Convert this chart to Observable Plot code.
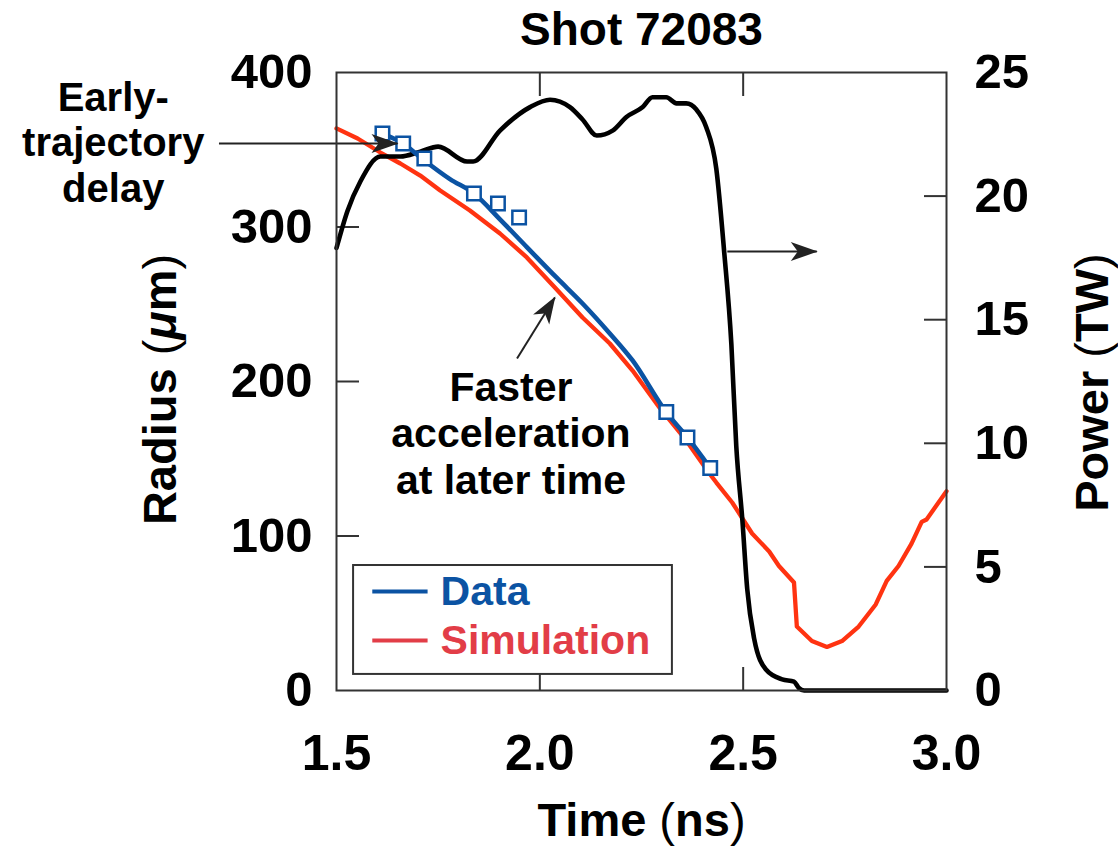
<!DOCTYPE html>
<html>
<head>
<meta charset="utf-8">
<script src="https://cdn.jsdelivr.net/npm/d3@7"></script>
<script src="https://cdn.jsdelivr.net/npm/@observablehq/plot@0.6"></script>
<style>
  html, body { margin: 0; padding: 0; background: #fff; }
  #chart svg { display: block; }
</style>
</head>
<body>
<div id="chart"></div>
<script>
// Laser power history (time in ns, power in TW)
const powerTime = [1.500, 1.527, 1.559, 1.608, 1.657, 1.706, 1.750, 1.821, 1.836, 1.902, 1.976, 2.025, 2.074, 2.105, 2.140, 2.179, 2.213, 2.253, 2.277, 2.311, 2.336, 2.360, 2.385, 2.409, 2.434, 2.453, 2.471, 2.483, 2.498, 2.510, 2.527, 2.556, 2.596, 2.625, 2.637, 2.650, 3.000];
const powerTW   = [17.9, 19.4, 20.6, 21.6, 21.6, 21.8, 22.0, 21.4, 21.4, 22.65, 23.6, 23.9, 23.6, 23.1, 22.45, 22.65, 23.2, 23.6, 24.0, 24.0, 23.75, 23.75, 23.5, 22.8, 21.1, 17.8, 14.0, 9.9, 6.9, 4.1, 2.1, 0.85, 0.45, 0.36, 0.1, 0, 0];

// Simulated shell radius (µm)
const simTime   = [1.500, 1.552, 1.608, 1.657, 1.706, 1.755, 1.828, 1.902, 1.968, 2.037, 2.105, 2.172, 2.228, 2.294, 2.360, 2.417, 2.434, 2.473, 2.522, 2.564, 2.588, 2.625, 2.632, 2.669, 2.706, 2.743, 2.784, 2.826, 2.853, 2.882, 2.914, 2.939, 2.951, 3.000];
const simRadius = [363.8, 357.3, 348.2, 341.1, 333.3, 323.6, 310.7, 295.8, 280.3, 260.8, 241.4, 224.6, 207.1, 183.2, 161.8, 140.5, 134.6, 121.7, 101.6, 90.0, 80.6, 69.9, 41.4, 32.0, 28.2, 32.0, 41.4, 55.7, 71.0, 80.6, 95.1, 109.1, 110.7, 129.0];

// Measured trajectory: fitted curve and individual measurements (µm)
const dataTime   = [1.613, 1.664, 1.713, 1.779, 1.838, 1.902, 1.968, 2.042, 2.105, 2.172, 2.228, 2.311, 2.363, 2.419];
const dataRadius = [360.5, 354.0, 343.7, 331.0, 321.7, 305.0, 287.0, 267.0, 250.5, 231.1, 213.6, 180.0, 163.8, 144.0];
const pointTime   = [1.613, 1.664, 1.716, 1.838, 1.897, 1.949, 2.311, 2.363, 2.419];
const pointRadius = [360.5, 354.0, 344.3, 321.7, 315.2, 306.1, 180.3, 163.8, 144.0];

// Axis ticks
const timeTicks   = [1.5, 2.0, 2.5, 3.0];
const radiusTicks = [0, 100, 200, 300, 400];
const powerTicks  = [0, 5, 10, 15, 20, 25];

// Legend entries
const seriesNames  = ["Data", "Simulation"];
const seriesColors = ["#0b53a3", "#e23d47"];

// The power axis on the right is drawn on the radius scale: 25 TW ↔ 400 µm
const UM_PER_TW = 400 / 25;

const power = powerTime.map((t, i) => ({t, r: powerTW[i] * UM_PER_TW}));
const sim = simTime.map((t, i) => ({t, r: simRadius[i]}));
const fit = dataTime.map((t, i) => ({t, r: dataRadius[i]}));
const points = pointTime.map((t, i) => ({t, r: pointRadius[i]}));

const FONT = "'Liberation Sans', Arial, Helvetica, sans-serif";
const INK = "#333";

// Filled, notched arrowhead for the annotation arrows
function arrowHead(color, context) {
  const doc = (context && context.document) || document;
  const ns = "http://www.w3.org/2000/svg";
  const m = doc.createElementNS(ns, "marker");
  m.setAttribute("viewBox", "-28 -11 30 22");
  m.setAttribute("markerWidth", 30);
  m.setAttribute("markerHeight", 22);
  m.setAttribute("markerUnits", "userSpaceOnUse");
  m.setAttribute("orient", "auto");
  m.setAttribute("refX", 0);
  m.setAttribute("refY", 0);
  const p = doc.createElementNS(ns, "path");
  p.setAttribute("d", "M1,0L-26,-9.5L-19,0L-26,9.5Z");
  p.setAttribute("fill", color);
  p.setAttribute("stroke", "none");
  m.appendChild(p);
  return m;
}

const arrows = [
  {x1: 1.211, y1: 354.0, x2: 1.650, y2: 354.0},
  {x1: 2.461, y1: 284.1, x2: 2.681, y2: 284.1},
  {x1: 1.944, y1: 214.9, x2: 2.037, y2: 254.4}
];

const notes = [
  {t: 0.951, r: 355.3, text: "Early-\ntrajectory\ndelay", size: 40},
  {t: 1.929, r: 167.0, text: "Faster\nacceleration\nat later time", size: 41}
];

const legendRows = seriesNames.map((name, i) => ({name, color: seriesColors[i], r: [64.1, 32.4][i]}));

const chart = Plot.plot({
  width: 1118,
  height: 846,
  marginLeft: 336,
  marginRight: 172,
  marginTop: 72,
  marginBottom: 156,
  style: {fontFamily: FONT, fontWeight: "bold", color: "#000", background: "#fff"},
  x: {domain: [1.5, 3.0]},
  y: {domain: [0, 400]},
  marks: [
    // inward tick marks on all four sides
    Plot.axisX([2.0, 2.5], {anchor: "bottom", tickSize: -23, text: null, label: null, stroke: INK, strokeWidth: 2}),
    Plot.axisX([2.0, 2.5], {anchor: "top", tickSize: -23, text: null, label: null, stroke: INK, strokeWidth: 2}),
    Plot.axisY([100, 200, 300], {anchor: "left", tickSize: -23, text: null, label: null, stroke: INK, strokeWidth: 2}),
    Plot.axisY(powerTicks.slice(1, -1).map(p => p * UM_PER_TW), {anchor: "right", tickSize: -23, text: null, label: null, stroke: INK, strokeWidth: 2}),

    // tick labels
    Plot.axisX(timeTicks, {anchor: "bottom", tickSize: 0, tickPadding: 44, tickFormat: d3.format(".1f"), fontSize: 50, fontWeight: "bold", label: null}),
    Plot.axisY(radiusTicks, {anchor: "left", tickSize: 0, tickPadding: 24, fontSize: 49, fontWeight: "bold", label: null}),
    Plot.axisY(powerTicks.map(p => p * UM_PER_TW), {anchor: "right", tickSize: 0, tickPadding: 28, tickFormat: d => d3.format("d")(d / UM_PER_TW), fontSize: 49, fontWeight: "bold", label: null}),

    // axis titles and chart title
    Plot.text(["Time (ns)"], {frameAnchor: "bottom", lineAnchor: "middle", dy: 130, fontSize: 47, fontWeight: "bold"}),
    Plot.text(["Radius (μm)"], {frameAnchor: "left", textAnchor: "middle", lineAnchor: "middle", dx: -176, dy: 8, rotate: -90, fontSize: 47, fontWeight: "bold"}),
    Plot.text(["Power (TW)"], {frameAnchor: "right", textAnchor: "middle", lineAnchor: "middle", dx: 146, dy: 1, rotate: -90, fontSize: 47, fontWeight: "bold"}),
    Plot.text(["Shot 72083"], {frameAnchor: "top", lineAnchor: "middle", dy: -42, fontSize: 46, fontWeight: "bold"}),

    // series
    Plot.line(sim, {x: "t", y: "r", stroke: "#ff3311", strokeWidth: 4.3, strokeLinejoin: "round"}),
    Plot.line(power, {x: "t", y: "r", stroke: "#000", strokeWidth: 4.6, curve: "monotone-x", strokeLinejoin: "round"}),
    Plot.line(fit, {x: "t", y: "r", stroke: "#0b53a3", strokeWidth: 4.6, curve: "monotone-x"}),
    Plot.dot(points, {x: "t", y: "r", symbol: "square", r: 7.6, fill: "#fff", stroke: "#0b53a3", strokeWidth: 2.5}),

    // annotations
    Plot.link(arrows, {x1: "x1", y1: "y1", x2: "x2", y2: "y2", stroke: "#222", strokeWidth: 2, markerEnd: arrowHead}),
    Plot.text(notes, {x: "t", y: "r", text: "text", fontSize: "size", lineHeight: 1.14, fontWeight: "bold"}),

    // legend
    Plot.rect([0], {x1: 1.542, x2: 2.326, y1: 10.4, y2: 80.9, fill: "#fff", stroke: INK, strokeWidth: 2}),
    Plot.link(legendRows, {x1: 1.588, x2: 1.724, y1: "r", y2: "r", stroke: "color", strokeWidth: 4}),
    Plot.text(legendRows, {x: 1.756, y: "r", text: "name", fill: "color", textAnchor: "start", fontSize: 41, fontWeight: "bold"}),

    Plot.frame({stroke: INK, strokeWidth: 2})
  ]
});

// Typeset the axis titles: italic μ, lighter parentheses
function typeset(el, parts) {
  while (el.firstChild) el.removeChild(el.firstChild);
  for (const [s, style] of parts) {
    const ts = document.createElementNS("http://www.w3.org/2000/svg", "tspan");
    ts.textContent = s;
    if (style) for (const k in style) ts.setAttribute(k, style[k]);
    el.appendChild(ts);
  }
}
const light = {"font-weight": "normal"};
for (const t of chart.querySelectorAll("text")) {
  const s = t.textContent;
  if (s === "Radius (μm)") typeset(t, [["Radius "], ["(", light], ["μ", {"font-style": "italic"}], ["m"], [")", light]]);
  else if (s === "Power (TW)") typeset(t, [["Power "], ["(", light], ["TW"], [")", light]]);
  else if (s === "Time (ns)") typeset(t, [["Time "], ["(", light], ["ns"], [")", light]]);
}

document.getElementById("chart").appendChild(chart);
</script>
</body>
</html>
